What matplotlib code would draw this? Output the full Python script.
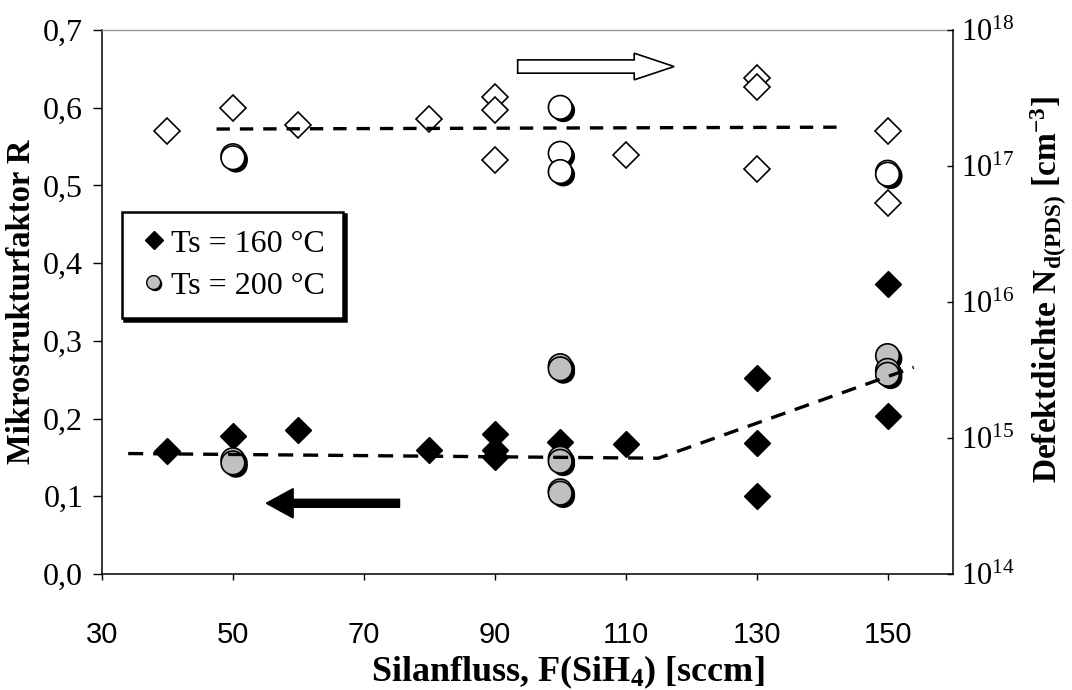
import matplotlib
matplotlib.use("Agg")
import matplotlib.pyplot as plt
import matplotlib.patches as patches
import matplotlib.patheffects as pe
from matplotlib.lines import Line2D
from matplotlib.ticker import FixedLocator, FixedFormatter, NullLocator

plt.rcParams['font.family'] = 'Liberation Serif'
plt.rcParams['mathtext.fontset'] = 'custom'
plt.rcParams['mathtext.rm'] = 'Liberation Serif'
plt.rcParams['mathtext.bf'] = 'Liberation Serif:bold'
plt.rcParams['mathtext.it'] = 'Liberation Serif:italic'

# Mikrostrukturfaktor R (linke Achse)
fluss_r_160 = [40, 50, 60, 80, 90, 90, 90, 100, 110, 130, 130, 130, 150, 150]
r_160 = [0.158, 0.178, 0.185, 0.160, 0.180, 0.160, 0.151, 0.170, 0.167,
         0.252, 0.168, 0.100, 0.373, 0.203]
fluss_r_200 = [50, 50, 100, 100, 100, 100, 100, 100, 150, 150, 150]
r_200 = [0.147, 0.143, 0.268, 0.264, 0.149, 0.145, 0.107, 0.104,
         0.281, 0.262, 0.257]

# Defektdichte Nd (rechte Achse)
fluss_nd_160 = [40, 50, 60, 80, 90, 90, 90, 110, 130, 130, 130, 150, 150]
nd_160 = [1.81e17, 2.69e17, 2.0e17, 2.2e17, 3.2e17, 2.6e17, 1.1e17,
          1.2e17, 4.4e17, 3.8e17, 9.5e16, 1.8e17, 5.3e16]
fluss_nd_200 = [50, 50, 100, 100, 100, 150, 150]
nd_200 = [1.19e17, 1.15e17, 2.7e17, 1.24e17, 9.1e16, 9.0e16, 8.7e16]

# Trendlinien
trend_r_x = [34, 115, 154]
trend_r_y = [0.155, 0.149, 0.266]
trend_nd_x = [47.5, 143]
trend_nd_y = [1.87e17, 1.93e17]

x_ticks = [30, 50, 70, 90, 110, 130, 150]
r_ticks = [0.0, 0.1, 0.2, 0.3, 0.4, 0.5, 0.6, 0.7]
r_labels = ['0,0', '0,1', '0,2', '0,3', '0,4', '0,5', '0,6', '0,7']
nd_ticks = [1e14, 1e15, 1e16, 1e17, 1e18]
nd_labels = [r'$\mathregular{10^{14}}$', r'$\mathregular{10^{15}}$',
             r'$\mathregular{10^{16}}$', r'$\mathregular{10^{17}}$',
             r'$\mathregular{10^{18}}$']

W, H = 1072, 690
fig = plt.figure(figsize=(W / 100, H / 100), dpi=100)
ax = fig.add_axes([102 / W, 1 - 574 / H, 851 / W, 544 / H])
ax2 = ax.twinx()

schatten = [pe.SimplePatchShadow(offset=(2.2, -2.2), shadow_rgbFace='k', alpha=1), pe.Normal()]

# linke Achse
ax.plot(fluss_r_160, r_160, ls='none', marker='D', markersize=13.2,
        color='k', zorder=3)
ax.plot(fluss_r_200, r_200, ls='none', marker='o', markersize=17,
        markerfacecolor='#c0c0c0', markeredgecolor='k', markeredgewidth=1.2,
        path_effects=schatten, zorder=3)
ax.plot(trend_r_x, trend_r_y, color='k', lw=2.4, dashes=(4.5, 3), zorder=4)

# rechte Achse
ax2.set_yscale('log')
ax2.plot(fluss_nd_160, nd_160, ls='none', marker='D', markersize=13.2,
         markerfacecolor='white', markeredgecolor='k', markeredgewidth=1.2,
         zorder=3)
ax2.plot(fluss_nd_200, nd_200, ls='none', marker='o', markersize=17,
         markerfacecolor='white', markeredgecolor='k', markeredgewidth=1.2,
         path_effects=schatten, zorder=3)
ax2.plot(trend_nd_x, trend_nd_y, color='k', lw=2.4, dashes=(4, 3), zorder=4)

# Pfeile
ax.add_patch(patches.FancyArrow(93.5, 0.653, 117.4 - 93.5, 0, width=0.0171,
                                head_width=0.0343, head_length=6.1,
                                length_includes_head=True, facecolor='white',
                                edgecolor='k', lw=1.2, zorder=5))
ax.add_patch(patches.FancyArrow(75.45, 0.091, 55.1 - 75.45, 0, width=0.0103,
                                head_width=0.0378, head_length=4.1,
                                length_includes_head=True, color='k', zorder=5))

ax.set_xlim(30, 160)
ax.set_ylim(0, 0.7)
ax2.set_ylim(1e14, 1e18)

ax.xaxis.set_major_locator(FixedLocator(x_ticks))
ax.yaxis.set_major_locator(FixedLocator(r_ticks))
ax.yaxis.set_major_formatter(FixedFormatter(r_labels))
ax2.yaxis.set_major_locator(FixedLocator(nd_ticks))
ax2.yaxis.set_major_formatter(FixedFormatter(nd_labels))
ax2.yaxis.set_minor_locator(NullLocator())

ax.tick_params(axis='y', direction='out', length=6.5, width=1, pad=7, labelsize=23)
ax.tick_params(axis='x', direction='out', length=4, width=1, pad=30, labelsize=21)
for lab in ax.get_xticklabels():
    lab.set_fontfamily('Liberation Sans')
ax2.tick_params(axis='y', direction='in', length=4.5, width=1, pad=6, labelsize=22)

for s in ['left', 'bottom']:
    ax.spines[s].set_linewidth(1.1)
ax.spines['right'].set_visible(False)
ax.spines['top'].set_color('#999999')
ax.spines['top'].set_linewidth(1.0)
for s in ['left', 'bottom', 'top']:
    ax2.spines[s].set_visible(False)
ax2.spines['right'].set_linewidth(1.1)

# Legende
griffe = [
    Line2D([], [], ls='none', marker='D', markersize=9.5, color='k'),
    Line2D([], [], ls='none', marker='o', markersize=10,
           markerfacecolor='#c0c0c0', markeredgecolor='k', markeredgewidth=1,
           path_effects=[pe.SimplePatchShadow(offset=(1.2, -1.2), shadow_rgbFace='k', alpha=1), pe.Normal()]),
]
leg = ax2.legend(griffe, ['Ts = 160 °C', 'Ts = 200 °C'], loc='upper left',
                 bbox_to_anchor=(121.7 / W, 1 - 211.7 / H),
                 bbox_transform=fig.transFigure, fontsize=23, frameon=True,
                 fancybox=False, framealpha=1, edgecolor='k',
                 shadow={'color': 'k', 'alpha': 1}, handlelength=0.9,
                 handletextpad=0.1, borderpad=0.55, labelspacing=0.4,
                 borderaxespad=0)
leg.get_frame().set_linewidth(1.8)
leg.set_zorder(6)

# Achsenbeschriftungen
fig.text(22 / W, 1 - 302 / H, 'Mikrostrukturfaktor R', rotation=90,
         ha='center', va='center', fontsize=23.5, fontweight='bold')
fig.text(568 / W, 1 - 672 / H, r'Silanfluss, F(SiH$_{\mathbf{4}}$) [sccm]',
         ha='center', va='center', fontsize=26, fontweight='bold')
fig.text(1048 / W, 1 - 290 / H,
         r'Defektdichte N$_{\mathbf{d(PDS)}}$ [cm$^{\mathbf{-3}}$]',
         rotation=90, ha='center', va='center', fontsize=24, fontweight='bold')

fig.savefig('out.png', dpi=100)
